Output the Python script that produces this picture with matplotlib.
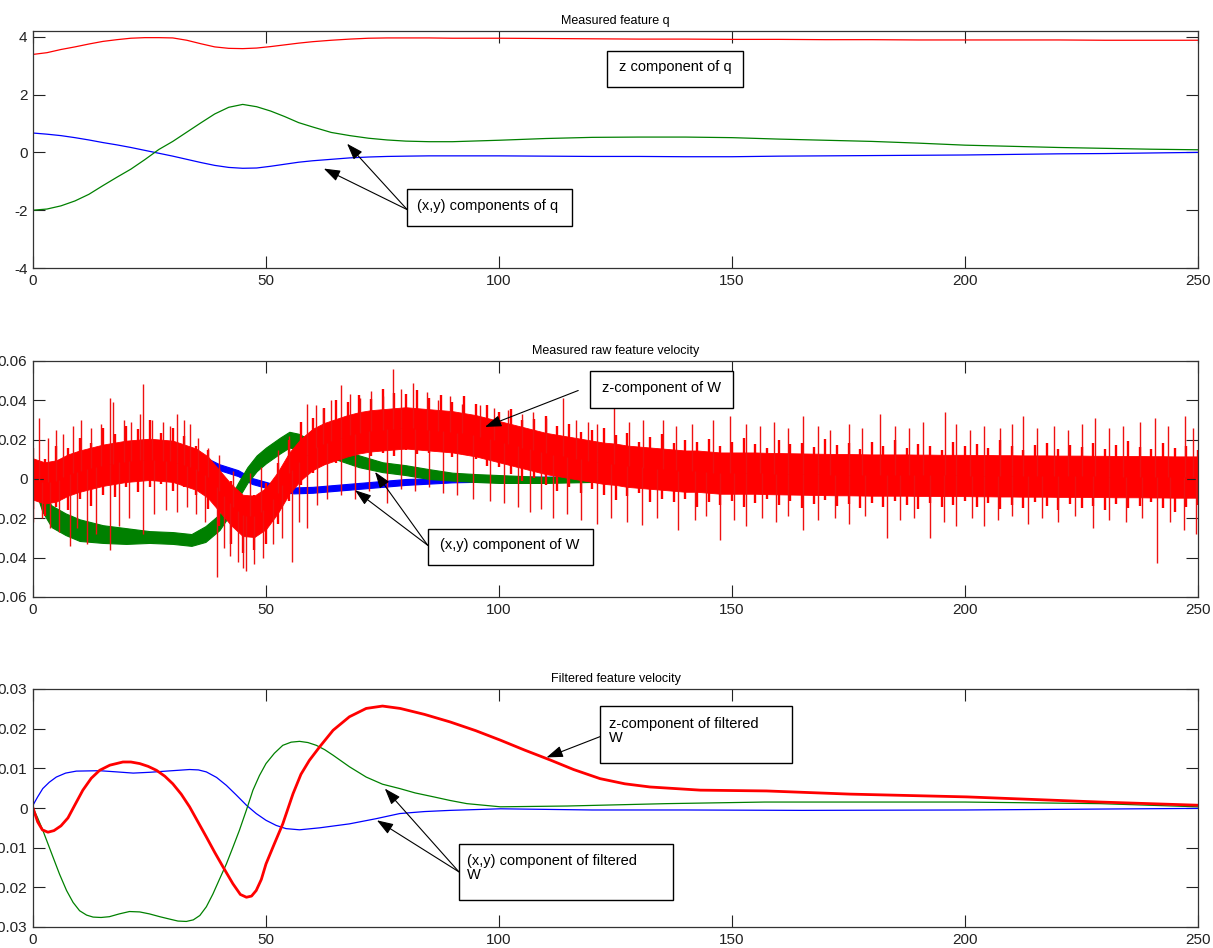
import numpy as np
import matplotlib
matplotlib.use("Agg")
import matplotlib.pyplot as plt
from matplotlib.patches import Rectangle

plt.rcParams['font.family'] = ['Liberation Sans', 'DejaVu Sans']

# --- Data ---

# Measured feature q
t_q = [0, 3, 6, 9, 12, 15, 18, 21, 24, 27, 30, 33, 36, 39, 42, 45, 48, 51, 54, 57, 60, 64, 68, 72, 76, 80, 85, 90,
       100, 110, 120, 130, 140, 150, 160, 170, 180, 190, 200, 210, 220, 230, 240, 250]
qz = [3.39, 3.45, 3.56, 3.65, 3.75, 3.84, 3.90, 3.95, 3.97, 3.97, 3.96, 3.88, 3.76, 3.65, 3.60, 3.59, 3.61, 3.66, 3.72, 3.78, 3.83, 3.88, 3.92, 3.95,
      3.96, 3.96, 3.96, 3.95, 3.95, 3.94, 3.93, 3.92, 3.92, 3.91, 3.91, 3.90, 3.90, 3.89, 3.89, 3.89, 3.89, 3.88, 3.88, 3.88]
qx = [0.67, 0.63, 0.58, 0.51, 0.43, 0.34, 0.26, 0.17, 0.07, -0.03, -0.13, -0.24, -0.35, -0.45, -0.52, -0.55, -0.54, -0.48, -0.41, -0.34, -0.29, -0.24,
      -0.19, -0.16, -0.14, -0.13, -0.12, -0.12, -0.12, -0.13, -0.14, -0.14, -0.15, -0.15, -0.13, -0.12, -0.11, -0.10, -0.09, -0.07, -0.05, -0.04, -0.02, 0.00]
qy = [-2.00, -1.96, -1.85, -1.68, -1.45, -1.15, -0.86, -0.58, -0.25, 0.10, 0.38, 0.70, 1.02, 1.33, 1.56, 1.66, 1.58, 1.43, 1.24, 1.03, 0.88, 0.69,
      0.58, 0.49, 0.43, 0.39, 0.37, 0.37, 0.42, 0.48, 0.52, 0.53, 0.53, 0.51, 0.46, 0.42, 0.38, 0.32, 0.25, 0.21, 0.17, 0.14, 0.11, 0.09]

# Measured raw feature velocity, x/y components: band centre and half-width
t_wx = [0, 3, 6, 10, 20, 30, 37, 40, 44, 47, 50, 53, 56, 60, 65, 70, 80, 90, 100, 110, 130, 160, 200, 250]
wx_c = [0.0, 0.006, 0.0085, 0.009, 0.009, 0.0092, 0.0095, 0.006, 0.003, -0.001, -0.003, -0.005, -0.0058, -0.0055, -0.0045, -0.0035, -0.0015, -0.0005, 0.0, 0.0, 0.0, 0.0, 0.0, 0.0]
wx_h = [0.001, 0.0015, 0.0015, 0.0015, 0.0015, 0.0015, 0.0015, 0.0015, 0.0015, 0.0015, 0.0015, 0.0015, 0.0015, 0.0015, 0.0015, 0.0015, 0.0015, 0.0012, 0.0012, 0.0012, 0.0012, 0.0012, 0.0012, 0.0012]

t_wy = [0, 2, 4, 7, 10, 15, 20, 25, 30, 34, 37, 40, 42, 44, 46, 48, 50, 53, 55, 57, 60, 65, 70, 75, 80, 85, 90, 95, 100, 110, 130, 160, 200, 250]
wy_c = [0.0, -0.012, -0.019, -0.023, -0.026, -0.028, -0.029, -0.0295, -0.030, -0.031, -0.028, -0.022, -0.015, -0.006, 0.002, 0.008, 0.012, 0.017, 0.020, 0.019, 0.016, 0.013, 0.009, 0.006, 0.0045, 0.0025, 0.0012, 0.0005, 0.0, -0.0005, 0.0005, 0.001, 0.001, 0.0]
wy_h = [0.002, 0.0045, 0.0055, 0.0055, 0.0055, 0.0045, 0.004, 0.003, 0.003, 0.003, 0.004, 0.004, 0.004, 0.004, 0.004, 0.004, 0.004, 0.004, 0.004, 0.004, 0.0032, 0.003, 0.003, 0.0025, 0.0025, 0.0025, 0.002, 0.002, 0.002, 0.0015, 0.0015, 0.0015, 0.0015, 0.0015]

# z component: centre of the noisy band every 2.5 s, solid core half-width,
# and how far the dense noise reaches above / below the centre
t_wz = np.linspace(0, 250, 101)
wz_c = [0.0, -0.002, -0.001, 0.002, 0.004, 0.0055, 0.007, 0.008, 0.009, 0.0095,
        0.010, 0.0095, 0.009, 0.007, 0.005, 0.001, -0.006, -0.013, -0.0185, -0.019,
        -0.015, -0.007, 0.003, 0.010, 0.015, 0.018, 0.020, 0.022, 0.0235, 0.0245,
        0.025, 0.0255, 0.026, 0.0255, 0.025, 0.0245, 0.024, 0.023, 0.022, 0.0205,
        0.019, 0.0175, 0.016, 0.0145, 0.013, 0.012, 0.011, 0.010, 0.009, 0.008,
        0.0075, 0.0065, 0.006, 0.0055, 0.005, 0.0045, 0.004, 0.004, 0.0035, 0.003,
        0.003, 0.003, 0.003, 0.0028, 0.0027, 0.0026, 0.0025, 0.0024, 0.0023, 0.0022,
        0.0022, 0.0021, 0.002, 0.002, 0.002, 0.002, 0.0019, 0.0019, 0.0018, 0.0018,
        0.0018, 0.0017, 0.0017, 0.0016, 0.0016, 0.0015, 0.0015, 0.0015, 0.0014, 0.0014,
        0.0014, 0.0013, 0.0013, 0.0012, 0.0012, 0.0012, 0.0011, 0.0011, 0.001, 0.001,
        0.001]
wz_core = 0.0105
wz_up = [0.016, 0.012, 0.018, 0.014, 0.017, 0.013, 0.019, 0.015, 0.018, 0.016,
         0.020, 0.014, 0.017, 0.015, 0.012, 0.014, 0.011, 0.012, 0.010, 0.011,
         0.013, 0.015, 0.017, 0.019, 0.016, 0.018, 0.020, 0.017, 0.019, 0.016,
         0.021, 0.018, 0.017, 0.020, 0.016, 0.018, 0.015, 0.019, 0.016, 0.017,
         0.015, 0.018, 0.014, 0.016, 0.019, 0.015, 0.017, 0.014, 0.016, 0.018,
         0.015, 0.017, 0.013, 0.016, 0.018, 0.014, 0.016, 0.015, 0.017, 0.014,
         0.016, 0.018, 0.015, 0.013, 0.017, 0.015, 0.016, 0.014, 0.018, 0.015,
         0.016, 0.013, 0.017, 0.015, 0.018, 0.014, 0.016, 0.015, 0.013, 0.017,
         0.015, 0.016, 0.014, 0.018, 0.015, 0.013, 0.016, 0.017, 0.014, 0.016,
         0.015, 0.017, 0.014, 0.016, 0.018, 0.015, 0.014, 0.017, 0.015, 0.016,
         0.014]
wz_dn = [0.015, 0.017, 0.013, 0.018, 0.014, 0.019, 0.015, 0.017, 0.013, 0.016,
         0.014, 0.012, 0.015, 0.011, 0.013, 0.016, 0.018, 0.020, 0.019, 0.017,
         0.018, 0.016, 0.014, 0.013, 0.012, 0.011, 0.012, 0.010, 0.011, 0.013,
         0.012, 0.014, 0.011, 0.013, 0.012, 0.010, 0.013, 0.011, 0.012, 0.014,
         0.013, 0.015, 0.017, 0.014, 0.016, 0.018, 0.015, 0.017, 0.014, 0.016,
         0.018, 0.015, 0.013, 0.017, 0.015, 0.016, 0.014, 0.018, 0.015, 0.016,
         0.014, 0.017, 0.015, 0.013, 0.016, 0.014, 0.017, 0.015, 0.013, 0.016,
         0.015, 0.017, 0.014, 0.016, 0.013, 0.015, 0.017, 0.014, 0.016, 0.015,
         0.013, 0.016, 0.014, 0.017, 0.015, 0.016, 0.013, 0.015, 0.017, 0.014,
         0.016, 0.015, 0.017, 0.014, 0.016, 0.015, 0.013, 0.016, 0.018, 0.015,
         0.014]

# isolated noise spikes of the z component (time, tip value)
spike_up_t = [1.2, 3.3, 5.0, 6.5, 8.5, 10.4, 12.5, 14.5, 16.5, 17.2, 19.5, 21.0, 23.0, 23.7, 25.5, 28.0, 29.5, 30.8, 32.5, 33.7,
              35.5, 37.5, 40.0, 43.0, 46.5, 49.0, 52.5, 55.0, 58.7, 60.8, 62.3, 64.0, 66.2, 68.0, 70.2, 72.5, 75.0, 77.3, 79.0, 81.6,
              84.5, 87.0, 89.5, 92.0, 95.9, 99.0, 102.0, 105.0, 107.4, 110.0, 113.8, 116.5, 119.0, 121.0, 124.6, 128.0, 131.0, 135.3,
              138.0, 141.5, 146.0, 149.6, 153.0, 156.0, 159.0, 162.0, 165.3, 168.5, 171.0, 175.0, 178.0, 181.8, 185.0, 188.0, 191.0,
              195.7, 198.0, 201.0, 204.0, 207.5, 210.0, 212.5, 215.5, 219.0, 222.0, 225.0, 227.9, 231.0, 234.0, 237.5, 240.7, 243.5,
              247.2, 249.0]
spike_up_v = [0.031, 0.021, 0.025, 0.023, 0.027, 0.030, 0.026, 0.028, 0.041, 0.039, 0.030, 0.029, 0.033, 0.0485, 0.030, 0.029, 0.027, 0.033, 0.030, 0.028,
              0.021, 0.016, 0.012, 0.004, 0.003, 0.006, 0.015, 0.022, 0.038, 0.0375, 0.036, 0.040, 0.048, 0.043, 0.041, 0.045, 0.042, 0.056, 0.046, 0.049,
              0.044, 0.040, 0.042, 0.038, 0.0375, 0.036, 0.035, 0.033, 0.034, 0.031, 0.041, 0.030, 0.029, 0.028, 0.036, 0.029, 0.030, 0.030,
              0.027, 0.028, 0.030, 0.032, 0.028, 0.027, 0.029, 0.026, 0.032, 0.027, 0.025, 0.028, 0.026, 0.033, 0.027, 0.026, 0.029,
              0.034, 0.028, 0.025, 0.027, 0.026, 0.028, 0.032, 0.026, 0.027, 0.025, 0.028, 0.031, 0.026, 0.027, 0.029, 0.031, 0.027,
              0.032, 0.026]
spike_dn_t = [0.1, 2.0, 3.6, 5.5, 7.9, 9.5, 11.5, 13.5, 16.5, 18.5, 20.5, 23.7, 26.0, 28.5, 30.8, 33.0, 35.0, 37.0, 39.4, 41.0,
              42.3, 44.0, 45.1, 45.8, 47.5, 49.4, 51.5, 53.5, 55.5, 57.0, 58.7, 60.9, 63.0, 66.0, 69.0, 72.0, 75.9, 79.0, 82.0, 85.0,
              88.0, 91.0, 94.5, 98.0, 101.0, 104.0, 106.6, 109.0, 111.6, 114.5, 117.5, 121.0, 124.0, 127.5, 130.6, 134.0, 138.5, 142.0,
              144.5, 147.4, 150.5, 153.0, 156.5, 159.5, 162.0, 165.3, 168.5, 172.0, 175.0, 178.5, 183.2, 186.0, 189.0, 192.5, 195.5,
              198.0, 201.5, 204.0, 207.0, 210.0, 213.5, 216.5, 220.0, 223.5, 227.5, 231.0, 234.5, 238.0, 241.1, 244.0, 247.0, 249.5]
spike_dn_v = [-0.022, -0.020, -0.025, -0.027, -0.034, -0.025, -0.033, -0.028, -0.036, -0.024, -0.020, -0.028, -0.018, -0.016, -0.017, -0.014, -0.018, -0.022, -0.050, -0.035,
              -0.039, -0.042, -0.045, -0.047, -0.043, -0.040, -0.033, -0.030, -0.042, -0.022, -0.025, -0.013, -0.010, -0.008, -0.010, -0.006, -0.012, -0.005, -0.006, -0.004,
              -0.007, -0.008, -0.010, -0.011, -0.012, -0.014, -0.017, -0.015, -0.020, -0.018, -0.021, -0.023, -0.020, -0.022, -0.0235, -0.020, -0.026, -0.021,
              -0.019, -0.031, -0.021, -0.024, -0.020, -0.022, -0.019, -0.026, -0.021, -0.020, -0.023, -0.019, -0.030, -0.021, -0.020, -0.030, -0.022,
              -0.024, -0.020, -0.024, -0.021, -0.019, -0.023, -0.020, -0.022, -0.019, -0.025, -0.021, -0.022, -0.020, -0.0427, -0.022, -0.026, -0.028]

# Filtered feature velocity
t_fx = [0, 1, 2.1, 3.5, 5, 7, 9.3, 14.3, 18, 21.5, 25, 28.6, 33.6, 35.5, 37.2, 39.4, 41.5, 43.6, 45.8, 47.9, 50, 52.2, 54.3, 57.2,
        61.5, 67.9, 73.6, 78.7, 84, 89.5, 100.3, 120, 140, 165, 200, 250]
fx = [0.0007, 0.0028, 0.0049, 0.0065, 0.0078, 0.0088, 0.0093, 0.0094, 0.0091, 0.0088, 0.0090, 0.0093, 0.0097, 0.0096, 0.0091, 0.0077,
      0.0057, 0.0033, 0.0007, -0.0014, -0.0031, -0.0044, -0.0052, -0.0055, -0.0050, -0.0040, -0.0027, -0.0014, -0.0009, -0.0006,
      -0.0002, -0.0005, -0.0005, -0.0006, -0.0005, -0.0001]
t_fy = [0, 1, 2.1, 3.2, 4.3, 5.7, 7.2, 8.6, 10, 11.5, 12.9, 14.6, 16.4, 18.5, 20.7, 22.9, 25, 27.2, 29.3, 31.1, 32.9, 34.4, 35.8,
        37.2, 38.6, 40, 41.5, 42.9, 44.3, 45.8, 47.2, 48.6, 50, 51.8, 53.6, 55.4, 57.2, 59, 60.8, 62.6, 64.4, 67.9, 71.5, 75,
        78.7, 82, 86, 89.5, 93.1, 100.3, 114.6, 136, 157, 200, 229, 250]
fy = [0.0, -0.0025, -0.0056, -0.0090, -0.0124, -0.0167, -0.0208, -0.0238, -0.0259, -0.0270, -0.0275, -0.0276, -0.0274, -0.0267,
      -0.0261, -0.0262, -0.0267, -0.0274, -0.0280, -0.0285, -0.0286, -0.0282, -0.0271, -0.0249, -0.0217, -0.0180, -0.0141,
      -0.0099, -0.0056, -0.0005, 0.0045, 0.0082, 0.0112, 0.0138, 0.0158, 0.0166, 0.0168, 0.0165, 0.0158, 0.0147, 0.0133,
      0.0104, 0.0078, 0.0060, 0.0049, 0.0038, 0.0028, 0.0019, 0.0011, 0.0003, 0.0005, 0.0011, 0.0015, 0.0015, 0.0011, 0.0003]
t_fz = [0, 1, 2, 3.2, 4.5, 6, 7.5, 9, 10.7, 12.5, 14.3, 16.5, 19.3, 21, 22.9, 24.7, 26.5, 28.3, 30, 31.8, 33.6, 35.4, 37.2,
        39, 40.8, 42.9, 44.5, 45.8, 46.9, 47.9, 49, 50, 51.8, 53.6, 55.8, 57.5, 59.3, 61.5, 64.4, 67.9, 71.5, 75, 78.8, 84,
        89.5, 95, 100.3, 105.5, 111, 116, 121.7, 127, 132.4, 143.2, 157.4, 175.3, 200.4, 229, 250]
fz = [0.0, -0.0035, -0.0055, -0.0061, -0.0057, -0.0045, -0.0025, 0.0008, 0.0045, 0.0075, 0.0095, 0.0108, 0.0116, 0.0116,
      0.0112, 0.0105, 0.0095, 0.0080, 0.0061, 0.0035, 0.0003, -0.0035, -0.0073, -0.0112, -0.0149, -0.0191, -0.0218, -0.0225,
      -0.0222, -0.0208, -0.0180, -0.0141, -0.0090, -0.0040, 0.0036, 0.0085, 0.0120, 0.0154, 0.0196, 0.0230, 0.0251, 0.0257,
      0.0251, 0.0236, 0.0217, 0.0195, 0.0171, 0.0146, 0.0121, 0.0097, 0.0074, 0.0061, 0.0053, 0.0045, 0.0043, 0.0035, 0.0028,
      0.0015, 0.0007]

x_ticks = [0, 50, 100, 150, 200, 250]
q_ticks = [-4, -2, 0, 2, 4]
q_labels = ['-4', '-2', '0', '2', '4']
raw_ticks = [-0.06, -0.04, -0.02, 0, 0.02, 0.04, 0.06]
raw_labels = ['-0.06', '-0.04', '-0.02', '0', '0.02', '0.04', '0.06']
filt_ticks = [-0.03, -0.02, -0.01, 0, 0.01, 0.02, 0.03]
filt_labels = ['-0.03', '-0.02', '-0.01', '0', '0.01', '0.02', '0.03']

RED = '#ff0000'
SPIKE = '#ee1111'
GREEN = '#008000'
BLUE = '#0000ff'

W, H = 1213, 948
fig = plt.figure(figsize=(W / 100, H / 100), dpi=100)


def px_axes(x0, y0, x1, y1):
    # axes from a pixel box (top-left origin)
    return fig.add_axes([x0 / W, 1 - y1 / H, (x1 - x0) / W, (y1 - y0) / H])


def matlab_style(ax, yticks, ylabels, ylim, title):
    ax.set_xlim(0, 250)
    ax.set_ylim(*ylim)
    ax.set_xticks(x_ticks)
    ax.set_xticklabels([str(v) for v in x_ticks])
    ax.set_yticks(yticks)
    ax.set_yticklabels(ylabels)
    ax.tick_params(direction='in', top=True, right=True, length=8.5, width=0.8,
                   labelsize=11, pad=4, colors='#222222')
    for s in ax.spines.values():
        s.set_linewidth(0.9)
        s.set_color('#333333')
    ax.set_title(title, fontsize=9, pad=5)


def text_box(x0, y0, x1, y1, lines, tx, ty, ha='center'):
    fig.patches.append(Rectangle((x0 / W, 1 - y1 / H), (x1 - x0) / W, (y1 - y0) / H,
                                 transform=fig.transFigure, fill=True, fc='white',
                                 ec='black', lw=1.0, zorder=5))
    fig.text(tx / W, 1 - ty / H, lines, ha=ha, va='center', fontsize=10.5,
             linespacing=1.05, zorder=6)


def arrow(ax, head, tail):
    ax.annotate('', xy=head, xytext=tail, xycoords='data', textcoords='data',
                arrowprops=dict(arrowstyle='-|>,head_length=1.0,head_width=0.35',
                                color='black', lw=0.8, shrinkA=0, shrinkB=0),
                annotation_clip=False)


# --- top: measured feature q ---
ax1 = px_axes(33, 31, 1198, 268)
ax1.plot(t_q, qx, color=BLUE, lw=0.9)
ax1.plot(t_q, qy, color=GREEN, lw=0.9)
ax1.plot(t_q, qz, color=RED, lw=0.9)
matlab_style(ax1, q_ticks, q_labels, (-4, 4.2), 'Measured feature q')
arrow(ax1, (67.4, 0.30), (80.3, -1.98))
arrow(ax1, (62.4, -0.56), (80.3, -1.98))
text_box(607, 51, 743, 87, 'z component of q', 675, 67)
text_box(407, 189, 572, 226, '(x,y) components of q', 488, 206)

# --- middle: measured raw feature velocity ---
ax2 = px_axes(33, 361, 1198, 597)
wx_c_a, wx_h_a = np.array(wx_c), np.array(wx_h)
wy_c_a, wy_h_a = np.array(wy_c), np.array(wy_h)
wz_c_a = np.array(wz_c)
ax2.fill_between(t_wx, wx_c_a - wx_h_a, wx_c_a + wx_h_a, color=BLUE, lw=0.8)
ax2.fill_between(t_wy, wy_c_a - wy_h_a, wy_c_a + wy_h_a, color=GREEN, lw=0.8)
# solid core of the red noise, then the dense comb of noise and the tall spikes
ax2.fill_between(t_wz, wz_c_a - wz_core, wz_c_a + wz_core, color=RED, lw=0.6)
ax2.vlines(t_wz, wz_c_a - np.array(wz_dn), wz_c_a + np.array(wz_up), color=RED, lw=1.7)
ax2.vlines(spike_up_t, np.interp(spike_up_t, t_wz, wz_c), spike_up_v, color=SPIKE, lw=1.0)
ax2.vlines(spike_dn_t, np.interp(spike_dn_t, t_wz, wz_c), spike_dn_v, color=SPIKE, lw=1.0)
matlab_style(ax2, raw_ticks, raw_labels, (-0.06, 0.06), 'Measured raw feature velocity')
arrow(ax2, (97.0, 0.0265), (117.0, 0.045))
arrow(ax2, (73.4, 0.0036), (84.7, -0.0337))
arrow(ax2, (69.1, -0.0057), (84.7, -0.0337))
text_box(590, 371, 733, 408, 'z-component of W', 661, 388)
text_box(428, 529, 593, 565, '(x,y) component of W', 510, 545)

# --- bottom: filtered feature velocity ---
ax3 = px_axes(33, 689, 1198, 927)
ax3.plot(t_fx, fx, color=BLUE, lw=0.9)
ax3.plot(t_fy, fy, color=GREEN, lw=0.9)
ax3.plot(t_fz, fz, color=RED, lw=2.0)
matlab_style(ax3, filt_ticks, filt_labels, (-0.03, 0.03), 'Filtered feature velocity')
arrow(ax3, (110.2, 0.01275), (121.7, 0.018))
arrow(ax3, (75.5, 0.0049), (91.4, -0.0161))
arrow(ax3, (73.8, -0.0031), (91.4, -0.0161))
text_box(600, 706, 792, 763, 'z-component of filtered\nW', 609, 731, ha='left')
text_box(459, 844, 673, 900, '(x,y) component of filtered\nW', 467, 868, ha='left')

fig.savefig('out.png', dpi=100, facecolor='white')
